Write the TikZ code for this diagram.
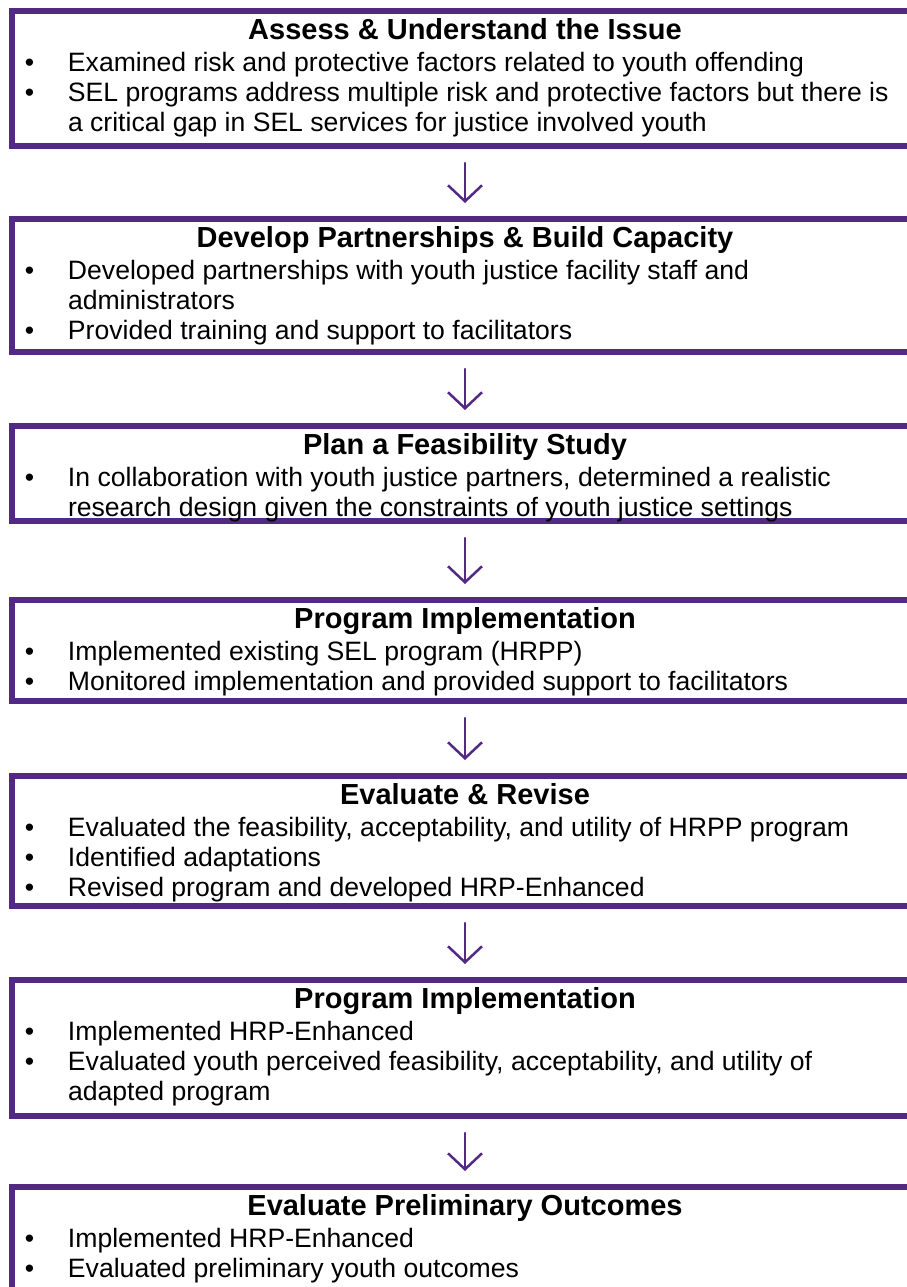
\documentclass[tikz,border=0pt]{standalone}
\usepackage{fontspec}
\setmainfont{Liberation Sans}
\usetikzlibrary{arrows.meta}
\definecolor{PURPLE}{HTML}{522A84}

% box contents: centred bold heading, then bullet lines with hanging indent
\newcommand{\stagebody}[2]{\parbox[c][#1][t]{906pt}{\fontsize{26.6}{30}\selectfont #2}}
\newcommand{\stagetitle}[1]{\noindent\rule{0pt}{28.5pt}\makebox[\linewidth]{\fontsize{29}{30}\selectfont\bfseries #1}\par\vspace{2pt}}
\newcommand{\stageitem}[1]{\hangindent=56pt\hangafter=1\noindent\makebox[56pt][l]{\hspace{13pt}\textbullet}#1\par}

\tikzset{
    stagebox/.style={draw=PURPLE, line width=6pt, anchor=north, inner sep=0pt, outer sep=0pt, minimum width=906pt},
    flowarrow/.style={draw=PURPLE, line width=2.5pt, line cap=round, line join=round, -{Straight Barb[length=16pt, width=34pt]}, shorten <=17pt, shorten >=16pt}
}

\begin{document}
\begin{tikzpicture}[x=1pt, y=-1pt]
    \useasboundingbox (0,0) rectangle (906,1287);

    \node[stagebox, minimum height=135pt] (assess) at (465,11) {\stagebody{135pt}{%
        \stagetitle{Assess \& Understand the Issue}
        \stageitem{Examined risk and protective factors related to youth offending}
        \stageitem{SEL programs address multiple risk and protective factors but there is\\a critical gap in SEL services for justice involved youth}}};
    \node[stagebox, minimum height=133pt] (partner) at (465,219) {\stagebody{133pt}{%
        \stagetitle{Develop Partnerships \& Build Capacity}
        \stageitem{Developed partnerships with youth justice facility staff and\\administrators}
        \stageitem{Provided training and support to facilitators}}};
    \node[stagebox, minimum height=95pt] (feasib) at (465,426) {\stagebody{95pt}{%
        \stagetitle{Plan a Feasibility Study}
        \stageitem{In collaboration with youth justice partners, determined a realistic\\research design given the constraints of youth justice settings}}};
    \node[stagebox, minimum height=101pt] (implA) at (465,600) {\stagebody{101pt}{%
        \stagetitle{Program Implementation}
        \stageitem{Implemented existing SEL program (HRPP)}
        \stageitem{Monitored implementation and provided support to facilitators}}};
    \node[stagebox, minimum height=130pt] (revise) at (465,776) {\stagebody{130pt}{%
        \stagetitle{Evaluate \& Revise}
        \stageitem{Evaluated the feasibility, acceptability, and utility of HRPP program}
        \stageitem{Identified adaptations}
        \stageitem{Revised program and developed HRP-Enhanced}}};
    \node[stagebox, minimum height=136pt] (implB) at (465,980) {\stagebody{136pt}{%
        \stagetitle{Program Implementation}
        \stageitem{Implemented HRP-Enhanced}
        \stageitem{Evaluated youth perceived feasibility, acceptability, and utility of\\adapted program}}};
    \node[stagebox, minimum height=140pt] (outcome) at (465,1187) {\stagebody{140pt}{%
        \stagetitle{Evaluate Preliminary Outcomes}
        \stageitem{Implemented HRP-Enhanced}
        \stageitem{Evaluated preliminary youth outcomes}}};

    % downward arrows between the stages
    \draw[flowarrow] (assess.south) -- (partner.north);
    \draw[flowarrow] (partner.south) -- (feasib.north);
    \draw[flowarrow] (feasib.south) -- (implA.north);
    \draw[flowarrow] (implA.south) -- (revise.north);
    \draw[flowarrow] (revise.south) -- (implB.north);
    \draw[flowarrow] (implB.south) -- (outcome.north);
\end{tikzpicture}
\end{document}
